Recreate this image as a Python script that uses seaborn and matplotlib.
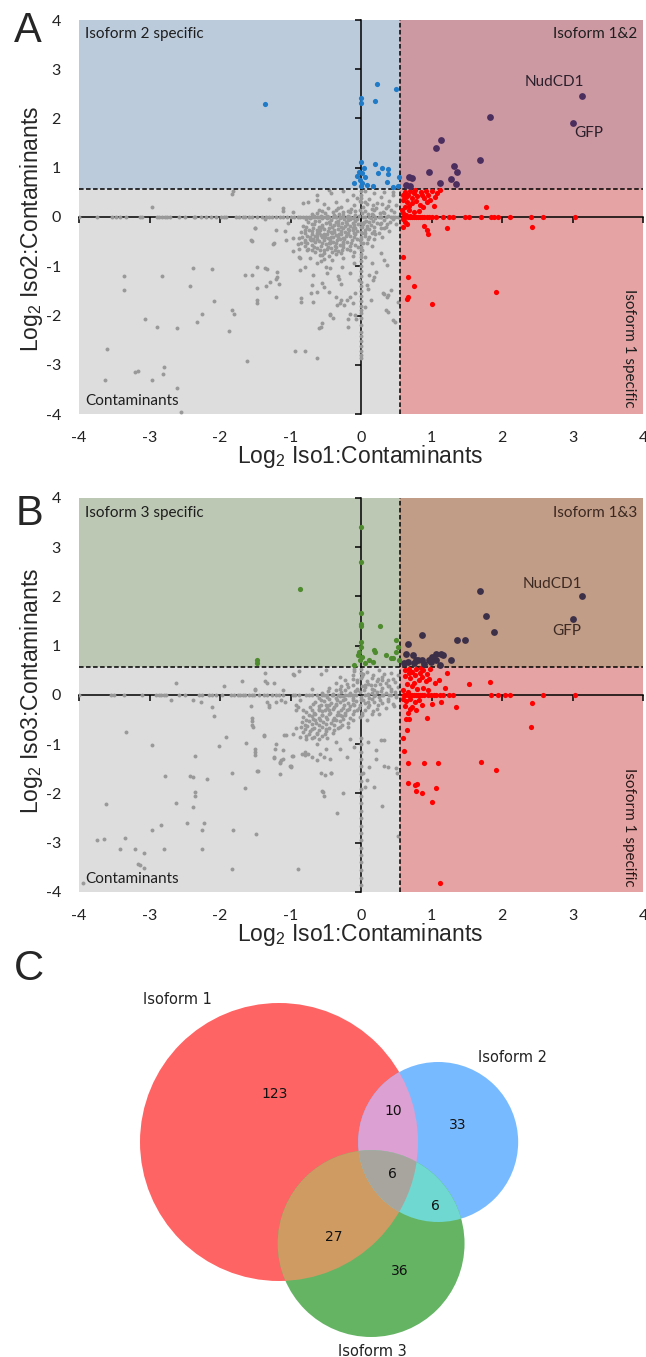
import numpy as np
import matplotlib.pyplot as plt
import seaborn as sns
from matplotlib.patches import Circle, Polygon

sns.set_style("white")
plt.rcParams['font.family'] = ['Liberation Sans', 'DejaVu Sans']
plt.rcParams['mathtext.fontset'] = 'custom'
plt.rcParams['mathtext.rm'] = 'Liberation Sans'

# ---------------- data: panel A (Iso1 vs Iso2) ----------------
A_gray_row_x = [-4.0, -3.74, -3.53, -3.48, -3.42, -3.34, -3.14, -3.10, -2.90, -2.87, -2.82, -2.78,
                -2.75, -2.71, -2.58, -2.50, -2.37, -2.35, -2.27, -2.20, -2.13, -2.06, -1.99, -1.94,
                -1.92, -1.78, -1.73, -1.68, -1.64, -1.59, -1.54, -1.47, -1.41, -1.35, -1.31, -1.26,
                -1.21, -1.15, -1.10, -1.05, -1.00, -0.95, -0.90, -0.86, -0.82, -0.78, -0.74, -0.70,
                -0.66, -0.62, -0.58, -0.54, -0.50, -0.45, -0.40, -0.35, -0.30, -0.25, -0.20, -0.15,
                -0.10, 0.05, 0.12, 0.20, 0.28, 0.35, 0.42, 0.48, 0.53]
A_gray_col_y = [-2.87, -2.80, -2.72, -2.62, -2.52, -2.42, -2.33, -2.20, -2.05, -1.95, -1.88, -1.80,
                -1.70, -1.60, -1.50, -1.40, -1.32, -1.20, -1.10, -1.00, -0.90, -0.82, -0.75, -0.68,
                -0.60, -0.52, -0.45, 0.30, 0.38, 0.45, 0.52]
A_gray_pts = [
    (-3.60, -2.68), (-3.63, -3.30), (-3.36, -1.20), (-3.36, -1.48), (-3.21, -3.15), (-3.17, -3.12),
    (-3.07, -2.07), (-2.96, -3.30), (-2.90, -2.23), (-2.82, -1.20), (-2.81, -3.19), (-2.80, -3.04),
    (-2.61, -3.47), (-2.61, -2.26), (-2.55, -3.95), (-2.43, -1.41), (-2.38, -1.04), (-2.33, -2.14),
    (-2.26, -1.97), (-2.12, -1.06), (-2.09, -1.71), (-1.87, -2.31), (-1.83, -1.89), (-1.80, -1.96),
    (-1.83, 0.46), (-1.82, 0.52), (-2.96, 0.20), (-1.62, -2.92), (-1.64, -1.18), (-1.55, -1.18),
    (-1.48, -1.01), (-1.48, -1.69), (-1.48, -1.75), (-1.48, -1.45), (-1.33, -1.05), (-1.29, -1.31),
    (-1.35, -1.40), (-1.21, -1.62), (-1.19, -1.11), (-1.19, -1.21), (-1.30, 0.36), (-1.55, -0.48),
    (-1.50, -0.23), (-1.25, -0.55), (-1.11, 0.13), (-1.08, -0.28), (-1.03, -0.12), (-0.97, -0.43),
    (-0.94, -2.73), (-0.80, -2.73), (-0.63, -2.86), (-0.85, -1.64), (-0.85, -1.72), (-0.68, -1.72),
    (-0.56, -2.16), (-0.59, -2.26), (-0.44, -1.98), (-0.18, -2.24), (-0.15, -1.96), (-0.08, -1.98),
    (0.36, -1.89), (0.39, -1.92), (0.31, -1.55), (0.37, -1.62), (0.48, -2.13), (0.52, -1.72),
    (0.29, -0.74), (0.15, -0.94), (0.21, -1.11), (-0.79, -1.01), (-0.88, -0.81), (-0.68, -1.18),
    (-0.56, -1.33), (-0.45, -1.52), (-0.36, -1.62), (-0.28, -1.69), (-0.24, -1.79), (-0.09, -1.55),
    (0.10, -1.47), (0.17, -1.28), (0.14, -1.69), (0.05, -1.82), (-0.28, -1.36), (-0.50, -1.01),
    (-0.62, -0.94), (-0.41, -0.87), (-0.27, -1.01), (-0.15, -1.14), (-0.10, -0.94), (-0.03, -1.28),
    (-0.76, -0.67), (-0.68, -0.47), (-0.56, -0.77), (-1.10, 0.18), (-0.96, 0.11), (-1.51, -0.23),
    (-1.36, -0.05), (-1.21, -0.26), (-1.06, -0.47), (-1.24, -0.53), (-1.56, -0.47), (-0.96, -0.70),
    (-0.88, -0.64), (-0.87, -0.84), (-1.36, -1.04), (-1.20, -1.25), (-1.16, -1.36), (-0.87, -1.07),
    (-0.73, -0.84), (-0.57, -0.90), (-0.53, -0.85), (-0.44, -1.04), (-0.48, -1.14), (-0.33, -1.20),
    (-0.31, -1.26), (-0.69, -1.38), (-0.71, -1.55), (-0.62, -1.52), (-0.53, -1.42), (0.06, -0.81),
    (0.32, -0.87), (0.37, -0.98), (0.39, -1.59), (0.42, -1.49), (0.32, -1.56), (0.08, -1.39),
    (0.46, -2.10), (0.11, -1.18), (0.18, -1.21), (-0.20, -1.69), (-0.16, -1.62), (-0.11, -1.74),
    (-0.44, -1.96), (-0.34, -1.79), (-0.30, -1.75), (-0.57, -2.23), (-0.19, -2.08), (-0.07, -2.08),
    (-0.40, -2.05), (-0.82, 0.28), (-0.75, 0.31), (-0.63, 0.35), (-0.45, 0.55), (-0.62, 0.45),
    (0.45, 0.50),
    # dense cloud
    (-0.42, 0.48), (-0.25, 0.52), (-0.12, 0.45), (0.05, 0.53), (0.18, 0.48), (0.33, 0.51),
    (0.45, 0.44), (0.28, 0.40), (0.12, 0.37), (-0.05, 0.38), (-0.20, 0.35), (-0.35, 0.30),
    (-0.52, 0.27), (0.40, 0.33), (0.22, 0.28), (0.08, 0.26), (-0.10, 0.24), (-0.28, 0.20),
    (0.50, 0.25), (0.35, 0.18), (0.15, 0.17), (-0.02, 0.14), (-0.18, 0.12), (-0.40, 0.10),
    (-0.60, 0.14), (0.47, 0.10), (0.27, 0.08), (0.10, 0.06), (-0.08, 0.05), (-0.25, 0.04),
    (-0.48, 0.03), (-0.70, 0.06), (0.38, 0.02),
    (-0.78, -0.05), (-0.65, -0.08), (-0.55, -0.03), (-0.42, -0.06), (-0.30, -0.02), (-0.18, -0.07),
    (-0.05, -0.04), (0.07, -0.08), (0.20, -0.03), (0.32, -0.07), (0.45, -0.05),
    (-0.82, -0.18), (-0.70, -0.15), (-0.60, -0.20), (-0.50, -0.13), (-0.38, -0.17), (-0.27, -0.12),
    (-0.15, -0.19), (-0.04, -0.14), (0.09, -0.18), (0.22, -0.13), (0.36, -0.20), (0.50, -0.15),
    (-0.85, -0.30), (-0.74, -0.27), (-0.63, -0.32), (-0.52, -0.25), (-0.43, -0.30), (-0.33, -0.24),
    (-0.22, -0.31), (-0.11, -0.26), (0.00, -0.30), (0.12, -0.25), (0.25, -0.32), (0.40, -0.28),
    (-0.88, -0.42), (-0.77, -0.38), (-0.68, -0.44), (-0.57, -0.37), (-0.47, -0.43), (-0.36, -0.36),
    (-0.26, -0.42), (-0.15, -0.38), (-0.05, -0.44), (0.06, -0.39), (0.18, -0.45), (0.30, -0.40),
    (-0.90, -0.55), (-0.80, -0.50), (-0.70, -0.56), (-0.60, -0.49), (-0.50, -0.55), (-0.40, -0.50),
    (-0.30, -0.57), (-0.20, -0.51), (-0.09, -0.56), (0.03, -0.52), (0.15, -0.58),
    (-0.75, -0.64), (-0.62, -0.62), (-0.52, -0.68), (-0.42, -0.63), (-0.32, -0.70), (-0.20, -0.65),
    (-0.10, -0.72), (0.02, -0.66), (-0.58, -0.78), (-0.45, -0.80), (-0.35, -0.76), (-0.25, -0.83),
    (-0.12, -0.79),
    (-0.45, -0.22), (-0.35, -0.10), (-0.25, -0.22), (-0.15, -0.05), (-0.08, -0.22), (0.02, -0.20),
    (0.12, -0.10), (-0.55, -0.40), (-0.40, -0.40), (-0.30, -0.45), (-0.20, -0.35), (-0.10, -0.33),
    (0.00, -0.12), (-0.62, -0.26), (-0.48, -0.35), (-0.38, -0.30), (-0.28, -0.35), (-0.18, -0.25),
    (-0.32, -0.15), (-0.22, -0.18), (-0.12, -0.12), (0.05, -0.32), (0.15, -0.32), (-0.65, -0.38),
    (-0.72, -0.45), (-0.44, -0.52), (-0.35, -0.60), (-0.25, -0.55), (0.28, -0.22), (0.10, -0.45),
    # core of the cloud
    (-0.47, 0.18), (-0.33, 0.19), (-0.14, 0.17), (0.03, 0.20), (0.21, 0.18), (-0.55, 0.12),
    (-0.36, 0.14), (-0.25, 0.11), (-0.09, 0.13), (0.06, 0.12), (0.19, 0.14), (0.31, 0.11),
    (-0.62, 0.08), (-0.51, 0.09), (-0.31, 0.07), (-0.16, 0.10), (0.01, 0.08), (0.16, 0.07),
    (0.33, 0.09), (-0.66, 0.03), (-0.57, 0.02), (-0.38, 0.04), (-0.19, 0.02), (-0.03, 0.03),
    (0.17, 0.04), (0.29, 0.01), (-0.72, -0.02), (-0.61, -0.01), (-0.48, -0.03), (-0.36, -0.01),
    (-0.24, -0.04), (-0.11, -0.02), (0.03, -0.01), (0.14, -0.03), (0.26, -0.01), (-0.75, -0.10),
    (-0.59, -0.09), (-0.46, -0.11), (-0.33, -0.08), (-0.21, -0.10), (-0.09, -0.09), (0.04, -0.11),
    (0.17, -0.09), (0.29, -0.12), (0.41, -0.10), (-0.66, -0.15), (-0.55, -0.16), (-0.44, -0.14),
    (-0.32, -0.16), (-0.20, -0.14), (-0.10, -0.16), (0.03, -0.15), (0.14, -0.16), (0.27, -0.14),
    (-0.78, -0.21), (-0.68, -0.22), (-0.56, -0.20), (-0.41, -0.21), (-0.29, -0.20), (-0.12, -0.22),
    (0.00, -0.21), (0.08, -0.23), (0.18, -0.20), (0.33, -0.22), (-0.80, -0.27), (-0.69, -0.28),
    (-0.58, -0.26), (-0.47, -0.28), (-0.38, -0.27), (-0.28, -0.28), (-0.17, -0.27), (-0.06, -0.29),
    (0.06, -0.27), (0.18, -0.28), (-0.79, -0.33), (-0.70, -0.34), (-0.59, -0.32), (-0.52, -0.34),
    (-0.41, -0.33), (-0.31, -0.34), (-0.19, -0.32), (-0.08, -0.34), (0.02, -0.33), (0.20, -0.35),
    (-0.83, -0.40), (-0.73, -0.41), (-0.62, -0.39), (-0.51, -0.41), (-0.43, -0.40), (-0.33, -0.41),
    (-0.21, -0.39), (-0.10, -0.41), (0.00, -0.40), (0.12, -0.41), (-0.80, -0.46), (-0.71, -0.47),
    (-0.63, -0.45), (-0.53, -0.47), (-0.44, -0.46), (-0.34, -0.47), (-0.24, -0.45), (-0.13, -0.47),
    (-0.01, -0.46), (-0.85, -0.52), (-0.76, -0.53), (-0.65, -0.51), (-0.56, -0.53), (-0.46, -0.52),
    (-0.35, -0.53), (-0.25, -0.51), (-0.14, -0.53), (0.08, -0.52), (-0.80, -0.59), (-0.67, -0.60),
    (-0.57, -0.58), (-0.47, -0.60), (-0.37, -0.59), (-0.26, -0.60), (-0.16, -0.58), (-0.04, -0.60),
    (-0.69, -0.66), (-0.58, -0.67), (-0.48, -0.65), (-0.37, -0.66), (-0.27, -0.67), (-0.15, -0.66),
    (-0.65, -0.72), (-0.53, -0.73), (-0.41, -0.71), (-0.28, -0.73), (0.05, 0.30), (0.17, 0.25),
    (0.30, 0.27), (0.38, 0.22), (0.43, 0.15), (0.37, -0.15), (0.45, 0.00), (-0.01, 0.32),
]
A_red_row_x = [0.61, 0.63, 0.66, 0.69, 0.72, 0.75, 0.78, 0.81, 0.84, 0.87, 0.90, 0.93, 0.96, 1.01,
               1.07, 1.16, 1.25, 1.31, 1.48, 1.53, 1.70, 1.84, 1.88, 1.94, 2.12, 2.41, 2.58, 3.04]
A_red_pts = [
    (1.77, 0.21), (2.43, -0.20), (1.22, -0.23), (0.90, -0.18), (0.93, -0.26), (0.95, -0.35),
    (0.59, -0.81), (0.67, -1.22), (0.75, -1.41), (0.66, -1.63), (0.65, -1.66), (1.01, -1.76),
    (1.92, -1.53), (0.62, 0.50), (0.66, 0.45), (0.70, 0.52), (0.75, 0.48), (0.80, 0.42),
    (0.85, 0.50), (0.90, 0.38), (0.95, 0.45), (1.00, 0.52), (1.05, 0.40), (1.12, 0.55),
    (0.60, 0.35), (0.65, 0.30), (0.72, 0.28), (0.78, 0.33), (0.83, 0.25), (0.88, 0.20),
    (0.93, 0.30), (0.98, 0.35), (1.03, 0.22), (0.62, 0.20), (0.68, 0.15), (0.75, 0.10),
    (0.82, 0.12), (0.60, 0.08), (0.64, 0.05), (0.70, 0.03), (0.60, -0.05), (0.62, -0.10),
    (0.65, -0.15), (0.72, 0.38), (0.86, 0.45), (0.92, 0.53), (1.08, 0.48), (0.77, 0.55),
    (0.64, 0.40), (0.68, 0.23), (0.58, 0.15), (0.60, -0.20), (0.60, 0.45),
]
A_spec_pts = [
    (-1.36, 2.29), (0.22, 2.70), (0.49, 2.59), (0.00, 2.42), (0.00, 2.32), (0.20, 2.35),
    (0.00, 1.12), (0.20, 1.08), (0.04, 0.99), (-0.03, 0.92), (0.05, 0.82), (-0.06, 0.84),
    (-0.10, 0.70), (0.01, 0.70), (0.08, 0.65), (0.00, 0.62), (0.17, 0.62), (0.24, 0.89),
    (0.30, 0.99), (0.38, 0.97), (0.38, 0.87), (0.37, 0.72), (0.46, 0.60), (0.54, 0.82),
    (0.52, 0.62), (-0.02, 0.75), (0.02, 0.89),
]
A_both_pts = [
    (3.14, 2.46), (3.00, 1.90), (1.83, 2.04), (1.14, 1.56), (1.06, 1.41), (1.69, 1.16),
    (1.32, 1.04), (1.36, 0.91), (0.97, 0.91), (1.27, 0.77), (1.12, 0.69), (1.35, 0.66),
    (0.68, 0.82), (0.72, 0.79), (0.64, 0.65), (0.69, 0.62),
]

# ---------------- data: panel B (Iso1 vs Iso3) ----------------
B_gray_row_x = [-4.0, -3.55, -3.50, -3.36, -3.10, -2.91, -2.87, -2.84, -2.79, -2.76, -2.58, -2.50,
                -2.30, -2.26, -2.16, -2.12, -2.06, -1.97, -1.85, -1.80, -1.74, -1.71, -1.67, -1.64,
                -1.59, -1.55, -1.52, -1.45, -1.38, -1.33, -1.26, -1.21, -1.16, -1.11, -0.97, -0.93,
                -0.88, -0.78, -0.74, -0.69, -0.62, -0.55, -0.48, -0.40, -0.32, -0.22, -0.12, 0.10,
                0.20, 0.30, 0.40, 0.50]
B_gray_col_y = [-3.85, -3.72, -3.55, -3.40, -3.25, -3.10, -2.95, -2.80, -2.65, -2.50, -2.35, -2.20,
                -2.05, -1.90, -1.75, -1.60, -1.45, -1.30, -1.15, -1.00, -0.88, 0.35, 0.45, 0.52]
B_gray_pts = [
    (-3.34, -0.75), (-2.97, -1.02), (-3.61, -2.21), (-3.75, -2.94), (-3.64, -2.92), (-3.42, -3.13),
    (-3.35, -2.91), (-3.21, -3.13), (-3.08, -3.21), (-3.17, -3.44), (-3.14, -3.46), (-3.08, -3.52),
    (-3.95, -3.82), (-2.78, -1.65), (-2.62, -2.20), (-2.83, -2.64), (-2.97, -2.75), (-2.80, -3.12),
    (-2.62, 0.24), (-2.70, -0.10), (-2.38, -0.10), (-2.27, -0.14), (-2.36, -1.23), (-2.42, -1.65),
    (-2.39, -1.67), (-2.18, -1.70), (-2.35, -1.96), (-2.35, -2.05), (-2.38, -2.27), (-2.47, -2.60),
    (-2.23, -2.60), (-2.26, -2.75), (-2.26, -3.12), (-2.12, -0.25), (-2.09, -0.43), (-1.94, 0.19),
    (-1.92, -0.85), (-2.01, -1.04), (-1.83, -1.59), (-1.81, -2.75), (-1.83, -3.54), (-1.69, 0.28),
    (-1.63, -0.98), (-1.65, -1.89), (-1.49, -2.83), (-1.47, -1.54), (-1.50, -1.10), (-1.50, -1.15),
    (-1.55, -0.52), (-1.55, -0.60), (-1.56, -0.23), (-1.51, 0.12), (-1.37, -0.81), (-1.36, 0.28),
    (-1.34, 0.24), (-1.24, 0.24), (-1.30, -0.20), (-1.30, -0.25), (-1.21, -1.00), (-1.24, -1.27),
    (-1.15, -1.61), (-1.15, -1.37), (-1.13, -1.31), (-1.10, -1.12), (-1.00, -1.44), (-0.99, -1.47),
    (-0.97, -1.23), (-1.06, -0.81), (-0.96, -0.80), (-0.89, -3.53), (-0.88, 0.49), (-0.95, 0.40),
    (-0.92, -0.20), (-0.90, -0.25), (-1.13, -0.10), (-0.69, 0.13), (-0.57, 0.42), (-0.75, -1.20),
    (-0.84, -1.19), (-0.80, -1.22), (-0.54, -1.96), (-0.52, -2.06), (-0.51, -1.63), (-0.42, -1.58),
    (-0.34, -2.39), (-0.70, -1.26), (-0.63, -1.32), (-0.52, -1.26), (-1.36, 0.45), (-0.96, 0.42),
    (-1.50, 0.11), (-1.10, 0.10), (-1.33, -0.15), (-1.20, -0.15), (-1.08, -0.15), (-0.92, -0.30),
    (-0.86, -0.10), (-0.82, -0.31), (-1.55, -0.47), (-1.53, -0.64), (-1.37, -0.83), (-1.09, -0.81),
    (-0.92, -0.67), (-1.50, -1.21), (-1.22, -1.09), (-0.87, -0.85), (-0.78, -0.90), (-1.24, -1.25),
    (-1.10, -1.29), (-0.98, -1.23), (-0.80, -1.15), (-1.15, -1.39), (-1.01, -1.44), (-1.46, -1.54),
    (-0.62, -1.00), (-0.58, -1.20), (-0.49, -1.10), (-0.44, -1.30), (-0.57, -1.59), (-0.43, -1.59),
    (-0.55, -1.94), (-0.25, -1.98), (0.03, -1.59), (0.08, -1.73), (0.06, -1.86), (0.21, -1.12),
    (0.28, -0.92), (0.21, -1.29), (0.12, -1.46), (0.32, -1.44), (0.39, -1.46), (0.49, -1.48),
    (0.51, -1.58), (0.33, -0.92), (0.19, -1.87), (-0.30, -1.10), (-0.20, -1.25), (-0.10, -1.05),
    (-0.35, -0.95), (-0.15, -0.90), (0.10, -0.95), (0.52, -2.87), (0.30, -2.25), (-0.50, 0.50),
    (-0.10, 0.52),
    # dense cloud
    (-0.10, 0.48), (0.08, 0.46), (0.25, 0.50), (0.42, 0.44), (-0.30, 0.36), (-0.12, 0.33),
    (0.02, 0.38), (0.15, 0.34), (0.30, 0.37), (0.45, 0.32), (0.52, 0.40), (-0.35, 0.25),
    (-0.20, 0.22), (-0.05, 0.27), (0.10, 0.23), (0.22, 0.28), (0.35, 0.24), (0.48, 0.27),
    (-0.45, 0.15), (-0.30, 0.12), (-0.18, 0.17), (-0.05, 0.13), (0.06, 0.16), (0.18, 0.11),
    (0.30, 0.15), (0.42, 0.12), (0.52, 0.17), (-0.55, 0.05), (-0.40, 0.03), (-0.28, 0.07),
    (-0.15, 0.04), (-0.02, 0.06), (0.10, 0.03), (0.22, 0.07), (0.35, 0.04), (0.48, 0.06),
    (-0.60, -0.06), (-0.48, -0.04), (-0.36, -0.07), (-0.25, -0.03), (-0.12, -0.06), (0.00, -0.04),
    (0.12, -0.07), (0.25, -0.05), (0.38, -0.08), (0.50, -0.04), (-0.65, -0.15), (-0.52, -0.13),
    (-0.42, -0.17), (-0.30, -0.14), (-0.18, -0.16), (-0.07, -0.13), (0.05, -0.17), (0.18, -0.14),
    (0.30, -0.16), (0.45, -0.18), (-0.72, -0.25), (-0.60, -0.23), (-0.48, -0.27), (-0.38, -0.24),
    (-0.26, -0.26), (-0.15, -0.23), (-0.03, -0.27), (0.10, -0.24), (0.22, -0.28), (-0.78, -0.34),
    (-0.66, -0.37), (-0.55, -0.33), (-0.44, -0.36), (-0.33, -0.34), (-0.22, -0.37), (-0.10, -0.33),
    (0.02, -0.36), (0.15, -0.38), (-0.82, -0.45), (-0.70, -0.43), (-0.60, -0.47), (-0.50, -0.44),
    (-0.38, -0.46), (-0.27, -0.43), (-0.15, -0.47), (-0.02, -0.45), (-0.84, -0.55), (-0.74, -0.53),
    (-0.64, -0.57), (-0.54, -0.54), (-0.42, -0.56), (-0.30, -0.53), (-0.18, -0.57), (-0.85, -0.65),
    (-0.76, -0.63), (-0.66, -0.67), (-0.56, -0.64), (-0.45, -0.66), (-0.33, -0.68), (-0.82, -0.75),
    (-0.72, -0.73), (-0.62, -0.77), (-0.50, -0.74), (-0.78, -0.84), (-0.66, -0.86), (-0.55, -0.83),
    (-0.45, -0.30), (-0.35, -0.20), (-0.25, -0.10), (-0.15, 0.00), (-0.05, 0.10), (0.05, 0.20),
    (0.15, 0.05), (-0.20, -0.30), (-0.10, -0.20), (0.00, -0.10), (0.10, -0.15), (-0.55, -0.40),
    (-0.65, -0.50), (-0.40, -0.50), (-0.30, -0.40), (0.20, 0.20), (0.30, 0.30), (0.38, 0.18),
    (-0.50, -0.20), (-0.60, -0.30),
    # core of the cloud
    (-0.12, 0.41), (0.03, 0.42), (0.17, 0.40), (0.33, 0.43), (-0.22, 0.30), (-0.06, 0.31),
    (0.09, 0.29), (0.24, 0.32), (0.39, 0.30), (-0.28, 0.19), (-0.12, 0.21), (0.01, 0.19),
    (0.14, 0.20), (0.27, 0.22), (0.40, 0.19), (-0.47, 0.09), (-0.35, 0.10), (-0.22, 0.11),
    (-0.09, 0.09), (0.04, 0.10), (0.16, 0.12), (0.28, 0.09), (0.42, 0.08), (-0.52, -0.01),
    (-0.41, 0.00), (-0.30, -0.02), (-0.19, 0.01), (-0.07, -0.01), (0.06, 0.00), (0.18, -0.02),
    (0.31, 0.01), (0.43, -0.01), (-0.57, -0.10), (-0.45, -0.09), (-0.34, -0.11), (-0.23, -0.09),
    (-0.11, -0.10), (0.03, -0.11), (0.15, -0.09), (0.27, -0.11), (0.38, -0.13), (-0.68, -0.19),
    (-0.57, -0.20), (-0.46, -0.21), (-0.35, -0.19), (-0.24, -0.20), (-0.12, -0.19), (-0.01, -0.21),
    (0.12, -0.20), (0.24, -0.21), (-0.70, -0.30), (-0.60, -0.29), (-0.51, -0.31), (-0.40, -0.29),
    (-0.29, -0.30), (-0.17, -0.29), (-0.06, -0.31), (0.06, -0.30), (0.17, -0.32), (-0.74, -0.40),
    (-0.65, -0.39), (-0.55, -0.41), (-0.45, -0.39), (-0.34, -0.41), (-0.23, -0.40), (-0.11, -0.39),
    (0.02, -0.41), (-0.78, -0.50), (-0.68, -0.49), (-0.58, -0.51), (-0.48, -0.49), (-0.36, -0.51),
    (-0.25, -0.49), (-0.12, -0.51), (-0.80, -0.60), (-0.70, -0.59), (-0.60, -0.61), (-0.50, -0.59),
    (-0.39, -0.61), (-0.27, -0.60), (-0.80, -0.70), (-0.70, -0.69), (-0.60, -0.71), (-0.49, -0.69),
    (-0.38, -0.71), (-0.74, -0.79), (-0.62, -0.80), (-0.51, -0.79), (-0.70, -0.88), (-0.60, -0.90),
    (-0.48, -0.87), (-0.40, -0.78), (-0.30, -0.65), (-0.18, -0.64), (0.08, -0.50), (0.25, -0.38),
    (0.36, -0.27), (0.47, -0.22),
]
B_red_row_x = [0.61, 0.63, 0.66, 0.69, 0.72, 0.75, 0.78, 0.81, 0.84, 0.87, 0.90, 0.95, 0.99, 1.03,
               1.07, 1.12, 1.16, 1.25, 1.31, 1.84, 1.95, 2.04, 2.12, 2.58, 3.04]
B_red_pts = [
    (1.53, 0.22), (1.83, 0.27), (1.22, 0.45), (1.19, 0.14), (1.10, 0.30), (1.35, -0.24),
    (1.13, -0.14), (1.00, -0.18), (0.94, -0.46), (2.43, -0.17), (2.41, -0.64), (0.72, -0.24),
    (0.66, -0.37), (0.64, -0.49), (0.68, -0.49), (0.65, -0.71), (0.59, -0.88), (0.61, -1.14),
    (0.66, -1.39), (0.90, -1.39), (1.09, -1.39), (1.70, -1.36), (1.92, -1.53), (0.67, -1.78),
    (0.77, -1.82), (0.80, -1.80), (0.78, -1.95), (0.87, -1.98), (1.06, -1.89), (1.01, -2.18),
    (1.12, -3.82), (0.62, 0.50), (0.68, 0.53), (0.73, 0.47), (0.78, 0.52), (0.83, 0.44),
    (0.88, 0.50), (0.93, 0.42), (0.98, 0.52), (0.62, 0.38), (0.70, 0.35), (0.76, 0.40),
    (0.82, 0.30), (0.87, 0.36), (0.92, 0.28), (0.97, 0.33), (1.05, 0.25), (0.65, 0.22),
    (0.72, 0.18), (0.80, 0.12), (0.88, 0.15), (0.95, 0.10), (0.60, 0.10), (0.66, 0.06),
    (0.60, -0.08), (0.64, -0.12), (0.70, -0.08), (0.76, -0.15), (0.82, -0.10), (0.86, -0.20),
    (0.62, -0.22), (0.70, -0.28), (0.78, -0.30), (0.85, 0.55), (0.75, 0.25), (0.68, 0.45),
]
B_spec_pts = [
    (0.00, 3.41), (0.00, 2.70), (-0.86, 2.16), (0.00, 1.66), (0.00, 1.45), (0.00, 1.40),
    (0.27, 1.40), (0.00, 1.08), (0.00, 0.98), (0.50, 1.11), (0.52, 0.98), (0.19, 0.91),
    (0.20, 0.88), (0.35, 0.81), (0.42, 0.76), (0.46, 0.76), (-0.03, 0.88), (0.02, 0.78),
    (-0.02, 0.71), (0.11, 0.71), (0.17, 0.68), (-0.10, 0.61), (0.05, 0.64), (-0.04, 0.81),
    (-1.48, 0.71), (-1.48, 0.64), (0.54, 0.71), (0.49, 0.88),
]
B_both_pts = [
    (3.14, 2.01), (3.00, 1.54), (1.69, 2.11), (1.77, 1.61), (1.88, 1.28), (1.36, 1.11),
    (1.48, 1.11), (0.86, 1.22), (0.66, 1.03), (0.64, 0.84), (0.74, 0.81), (0.81, 0.72),
    (0.87, 0.71), (0.96, 0.72), (1.01, 0.78), (1.06, 0.83), (1.13, 0.84), (1.16, 0.81),
    (1.28, 0.71), (1.12, 0.61), (0.90, 0.63), (0.75, 0.64), (0.66, 0.68), (0.99, 0.68),
    (0.61, 0.64), (0.78, 0.71), (1.07, 0.72),
]

# ---------------- data: panel C (Venn counts) ----------------
venn_names = ['Isoform 1', 'Isoform 2', 'Isoform 3']
venn_regions = ['100', '010', '001', '110', '101', '011', '111']
venn_counts = [123, 33, 36, 10, 27, 6, 6]

thr_x = 0.55
thr_y = 0.56

W, H = 646, 1357
fig = plt.figure(figsize=(W / 100, H / 100), dpi=100)


def fpos(x, y):
    return x / W, 1 - y / H


def draw_panel(ax, row_x, col_y, gray_pts, red_row, red_pts, spec_pts, both_pts,
               spec_color, both_color, bg, texts, ylab, ylab_y):
    lo, hi = -4, 4
    ax.fill_between([lo, thr_x], thr_y, hi, color=bg[0], lw=0, zorder=0)
    ax.fill_between([thr_x, hi], thr_y, hi, color=bg[1], lw=0, zorder=0)
    ax.fill_between([lo, thr_x], lo, thr_y, color=bg[2], lw=0, zorder=0)
    ax.fill_between([thr_x, hi], lo, thr_y, color=bg[3], lw=0, zorder=0)

    gp = np.array(gray_pts)
    gx = np.concatenate([row_x, np.zeros(len(col_y)), gp[:, 0]])
    gy = np.concatenate([np.zeros(len(row_x)), col_y, gp[:, 1]])
    sns.scatterplot(x=gx, y=gy, color='#999999', s=8, linewidth=0, ax=ax, zorder=3)

    rp = np.array(red_pts)
    rx = np.concatenate([red_row, rp[:, 0]])
    ry = np.concatenate([np.zeros(len(red_row)), rp[:, 1]])
    sns.scatterplot(x=rx, y=ry, color='#ff0000', s=14, linewidth=0, ax=ax, zorder=4)
    sp = np.array(spec_pts)
    sns.scatterplot(x=sp[:, 0], y=sp[:, 1], color=spec_color, s=14, linewidth=0, ax=ax, zorder=4)
    bp = np.array(both_pts)
    sns.scatterplot(x=bp[:, 0], y=bp[:, 1], color=both_color, s=24, linewidth=0, ax=ax, zorder=4)

    ax.axvline(thr_x, color='black', lw=1.1, ls=(0, (3, 1.6)), zorder=3.5)
    ax.axhline(thr_y, color='black', lw=1.1, ls=(0, (3, 1.6)), zorder=3.5)

    ax.set_xlim(lo, hi)
    ax.set_ylim(lo, hi)
    for side in ['top', 'right']:
        ax.spines[side].set_visible(False)
    for side in ['left', 'bottom']:
        ax.spines[side].set_position(('data', 0))
        ax.spines[side].set_color('black')
        ax.spines[side].set_linewidth(1.1)
        ax.spines[side].set_zorder(2)
    ticks = list(range(lo, hi + 1))
    ax.set_xticks(ticks)
    ax.set_yticks(ticks)
    ax.tick_params(bottom=True, left=True, direction='out', length=4, width=1.1,
                   colors='black', labelbottom=False, labelleft=False)

    tick_labels = [str(t) for t in ticks]
    sx = ax.secondary_xaxis('bottom')
    sx.set_xticks(ticks, tick_labels, fontsize=11.5, fontfamily='Lato', color='#222222')
    sx.tick_params(length=0, pad=12)
    sx.spines['bottom'].set_visible(False)
    sy = ax.secondary_yaxis('left')
    sy.set_yticks(ticks, tick_labels, fontsize=11.5, fontfamily='Lato', color='#222222')
    sy.tick_params(length=0, pad=13)
    sy.spines['left'].set_visible(False)

    ax.text(0.498, -0.108, r'Log$_2$ Iso1:Contaminants', transform=ax.transAxes,
            ha='center', va='center', fontsize=16.5)
    ax.text(-0.085, ylab_y, ylab, transform=ax.transAxes, rotation=90,
            ha='center', va='center', fontsize=16.5)

    for t in texts:
        ax.text(t[0], t[1], t[2], ha=t[3], va=t[4], rotation=t[5], fontsize=t[6],
                color=t[7], fontfamily='Lato', zorder=5)


ax_a = fig.add_axes([79 / W, 1 - 414 / H, 564 / W, 394 / H])
texts_a = [
    (-3.91, 3.71, 'Isoform 2 specific', 'left', 'center', 0, 11, '#1e1e1e'),
    (3.92, 3.71, 'Isoform 1&2', 'right', 'center', 0, 11, '#1e1e1e'),
    (3.80, -1.46, 'Isoform 1 specific', 'center', 'top', 270, 11, '#1e1e1e'),
    (-3.91, -3.74, 'Contaminants', 'left', 'center', 0, 11, '#1e1e1e'),
    (2.75, 2.75, 'NudCD1', 'center', 'center', 0, 11, '#2a1f2a'),
    (3.23, 1.71, 'GFP', 'center', 'center', 0, 11, '#2a1f2a'),
]
draw_panel(ax_a, A_gray_row_x, A_gray_col_y, A_gray_pts, A_red_row_x, A_red_pts,
           A_spec_pts, A_both_pts, '#1f7bc8', '#4b2d5e',
           ['#bccbdb', '#cc99a3', '#dddddd', '#e6a3a3'], texts_a,
           r'Log$_2$ Iso2:Contaminants', 0.47)

ax_b = fig.add_axes([79 / W, 1 - 892 / H, 564 / W, 394 / H])
texts_b = [
    (-3.91, 3.70, 'Isoform 3 specific', 'left', 'center', 0, 11, '#1e1e1e'),
    (3.92, 3.70, 'Isoform 1&3', 'right', 'center', 0, 11, '#3a2820'),
    (3.80, -1.49, 'Isoform 1 specific', 'center', 'top', 270, 11, '#2a1818'),
    (-3.91, -3.74, 'Contaminants', 'left', 'center', 0, 11, '#1e1e1e'),
    (2.71, 2.25, 'NudCD1', 'center', 'center', 0, 11, '#3d2a22'),
    (2.92, 1.30, 'GFP', 'center', 'center', 0, 11, '#3d2a22'),
]
draw_panel(ax_b, B_gray_row_x, B_gray_col_y, B_gray_pts, B_red_row_x, B_red_pts,
           B_spec_pts, B_both_pts, '#4e8a2e', '#3c2f48',
           ['#bcc8b4', '#c19c87', '#dddddd', '#e6a3a3'], texts_b,
           r'Log$_2$ Iso3:Contaminants', 0.51)

# ---------------- Venn (area proportional circles) ----------------
cnt = dict(zip(venn_regions, venn_counts))
size1 = sum(v for k, v in cnt.items() if k[0] == '1')
size2 = sum(v for k, v in cnt.items() if k[1] == '1')
size3 = sum(v for k, v in cnt.items() if k[2] == '1')
r1, r2, r3 = [np.sqrt(s / np.pi) for s in (size1, size2, size3)]


def lens_area(d, ra, rb):
    if d >= ra + rb:
        return 0.0
    if d <= abs(ra - rb):
        return np.pi * min(ra, rb) ** 2
    a = ra ** 2 * np.arccos((d * d + ra * ra - rb * rb) / (2 * d * ra))
    b = rb ** 2 * np.arccos((d * d + rb * rb - ra * ra) / (2 * d * rb))
    c = 0.5 * np.sqrt((-d + ra + rb) * (d + ra - rb) * (d - ra + rb) * (d + ra + rb))
    return a + b - c


def solve_dist(ra, rb, target):
    lo, hi = abs(ra - rb) + 1e-9, ra + rb
    for _ in range(80):
        mid = (lo + hi) / 2
        if lens_area(mid, ra, rb) > target:
            lo = mid
        else:
            hi = mid
    return (lo + hi) / 2


d12 = solve_dist(r1, r2, cnt['110'] + cnt['111'])
d13 = solve_dist(r1, r3, cnt['101'] + cnt['111'])
d23 = solve_dist(r2, r3, cnt['011'] + cnt['111'])
c1 = np.array([0.0, 0.0])
c2 = np.array([d12, 0.0])
cx3 = (d13 ** 2 - d23 ** 2 + d12 ** 2) / (2 * d12)
c3 = np.array([cx3, -np.sqrt(max(d13 ** 2 - cx3 ** 2, 0))])

scale = 139 / r1  # pixels per unit
cpx = (279, 1142)
vx0, vx1, vy0, vy1 = 100, 600, 985, 1357
ax_v = fig.add_axes([vx0 / W, 1 - vy1 / H, (vx1 - vx0) / W, (vy1 - vy0) / H])
ax_v.set_xlim((vx0 - cpx[0]) / scale, (vx1 - cpx[0]) / scale)
ax_v.set_ylim((cpx[1] - vy1) / scale, (cpx[1] - vy0) / scale)
ax_v.axis('off')

col = {'100': '#ff6464', '010': '#78baff', '001': '#64b464', '110': '#dca0d2',
       '101': '#cf9b62', '011': '#6fd8d0', '111': '#a8a59f'}


def circ(c, r, color):
    return Circle(c, r, facecolor=color, edgecolor='none', transform=ax_v.transData)


ax_v.add_patch(circ(c1, r1, col['100']))
ax_v.add_patch(circ(c2, r2, col['010']))
ax_v.add_patch(circ(c3, r3, col['001']))
p = ax_v.add_patch(circ(c2, r2, col['110']))
p.set_clip_path(circ(c1, r1, 'none'))
p = ax_v.add_patch(circ(c3, r3, col['101']))
p.set_clip_path(circ(c1, r1, 'none'))
p = ax_v.add_patch(circ(c3, r3, col['011']))
p.set_clip_path(circ(c2, r2, 'none'))
a1 = np.arccos((d12 ** 2 + r1 ** 2 - r2 ** 2) / (2 * d12 * r1))
a2 = np.arccos((d12 ** 2 + r2 ** 2 - r1 ** 2) / (2 * d12 * r2))
t1 = np.linspace(-a1, a1, 200)
t2 = np.linspace(np.pi - a2, np.pi + a2, 200)
lens = np.vstack([np.column_stack([c1[0] + r1 * np.cos(t1), c1[1] + r1 * np.sin(t1)]),
                  np.column_stack([c2[0] + r2 * np.cos(t2), c2[1] + r2 * np.sin(t2)])])
lens_patch = Polygon(lens, closed=True, transform=ax_v.transData)
p = ax_v.add_patch(circ(c3, r3, col['111']))
p.set_clip_path(lens_patch)

region_px = {'100': (275, 1094), '110': (393, 1111), '010': (458, 1125), '111': (392, 1174),
             '011': (435, 1206), '101': (334, 1237), '001': (400, 1271)}
for k, v in cnt.items():
    fx, fy = fpos(*region_px[k])
    fig.text(fx, fy, str(v), ha='center', va='center', fontsize=10, fontfamily='DejaVu Sans',
             color='#111111')
name_px = [(177, 999), (512, 1057), (372, 1351)]
for name, (x, y) in zip(venn_names, name_px):
    fx, fy = fpos(x, y)
    fig.text(fx, fy, name, ha='center', va='center', fontsize=10.5, fontfamily='DejaVu Sans',
             color='#222222')

for letter, (x, y) in zip('ABC', [(14, 42), (16, 525), (14, 980)]):
    fx, fy = fpos(x, y)
    fig.text(fx, fy, letter, ha='left', va='baseline', fontsize=30)

fig.savefig('out.png', dpi=100)
